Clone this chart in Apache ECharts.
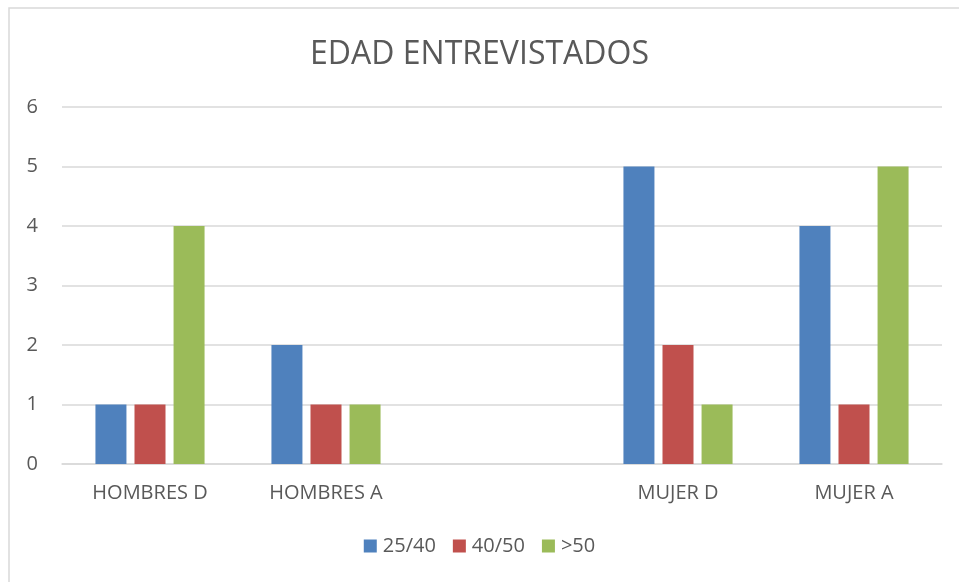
<!DOCTYPE html>
<html>
<head>
<meta charset="utf-8">
<script src="https://cdn.jsdelivr.net/npm/echarts@6/dist/echarts.min.js"></script>
<style>
  html, body { margin: 0; padding: 0; background: #fff; }
  #chart { width: 959px; height: 582px; }
</style>
</head>
<body>
<div id="chart"></div>
<script>
// categorias (la tercera va vacia, como en el original)
var categorias = ['HOMBRES D', 'HOMBRES A', '', 'MUJER D', 'MUJER A'];
var serie2540 = [1, 2, null, 5, 4];
var serie4050 = [1, 1, null, 2, 1];
var serieMas50 = [4, 1, null, 1, 5];
var nombres = ['25/40', '40/50', '>50'];
var colores = ['#4F81BD', '#C0504D', '#9BBB59'];

var chart = echarts.init(document.getElementById('chart'));
var fuente = 'Open Sans';

function barra(nombre, datos, color) {
    return {
        name: nombre,
        type: 'bar',
        data: datos,
        barWidth: 31,
        barGap: '26%',
        itemStyle: { color: color }
    };
}

var option = {
    animation: false,
    textStyle: { fontFamily: fuente },
    title: {
        text: 'EDAD ENTREVISTADOS',
        left: 'center',
        top: 34,
        textStyle: { color: '#595959', fontSize: 32, fontWeight: 'normal', fontFamily: fuente }
    },
    // marco exterior
    graphic: [{
        type: 'rect',
        shape: { x: 9, y: 8, width: 960, height: 600 },
        style: { fill: null, stroke: '#D9D9D9', lineWidth: 1.5 },
        silent: true
    }],
    legend: {
        data: nombres,
        bottom: 21,
        left: 'center',
        itemWidth: 13,
        itemHeight: 13,
        itemGap: 17,
        icon: 'rect',
        textStyle: { color: '#595959', fontSize: 20, padding: [0, 0, 0, 1] }
    },
    grid: { left: 62, right: 17, top: 107, bottom: 118 },
    xAxis: {
        type: 'category',
        data: categorias,
        axisLine: { lineStyle: { color: '#D9D9D9', width: 1.5 } },
        axisTick: { show: false },
        axisLabel: { color: '#595959', fontSize: 20, margin: 19 }
    },
    yAxis: {
        type: 'value',
        min: 0,
        max: 6,
        interval: 1,
        axisLine: { show: false },
        axisTick: { show: false },
        axisLabel: { color: '#595959', fontSize: 20, margin: 24 },
        splitLine: { lineStyle: { color: '#D9D9D9', width: 1.5 } }
    },
    series: [
        barra(nombres[0], serie2540, colores[0]),
        barra(nombres[1], serie4050, colores[1]),
        barra(nombres[2], serieMas50, colores[2])
    ]
};

chart.setOption(option);
</script>
</body>
</html>
